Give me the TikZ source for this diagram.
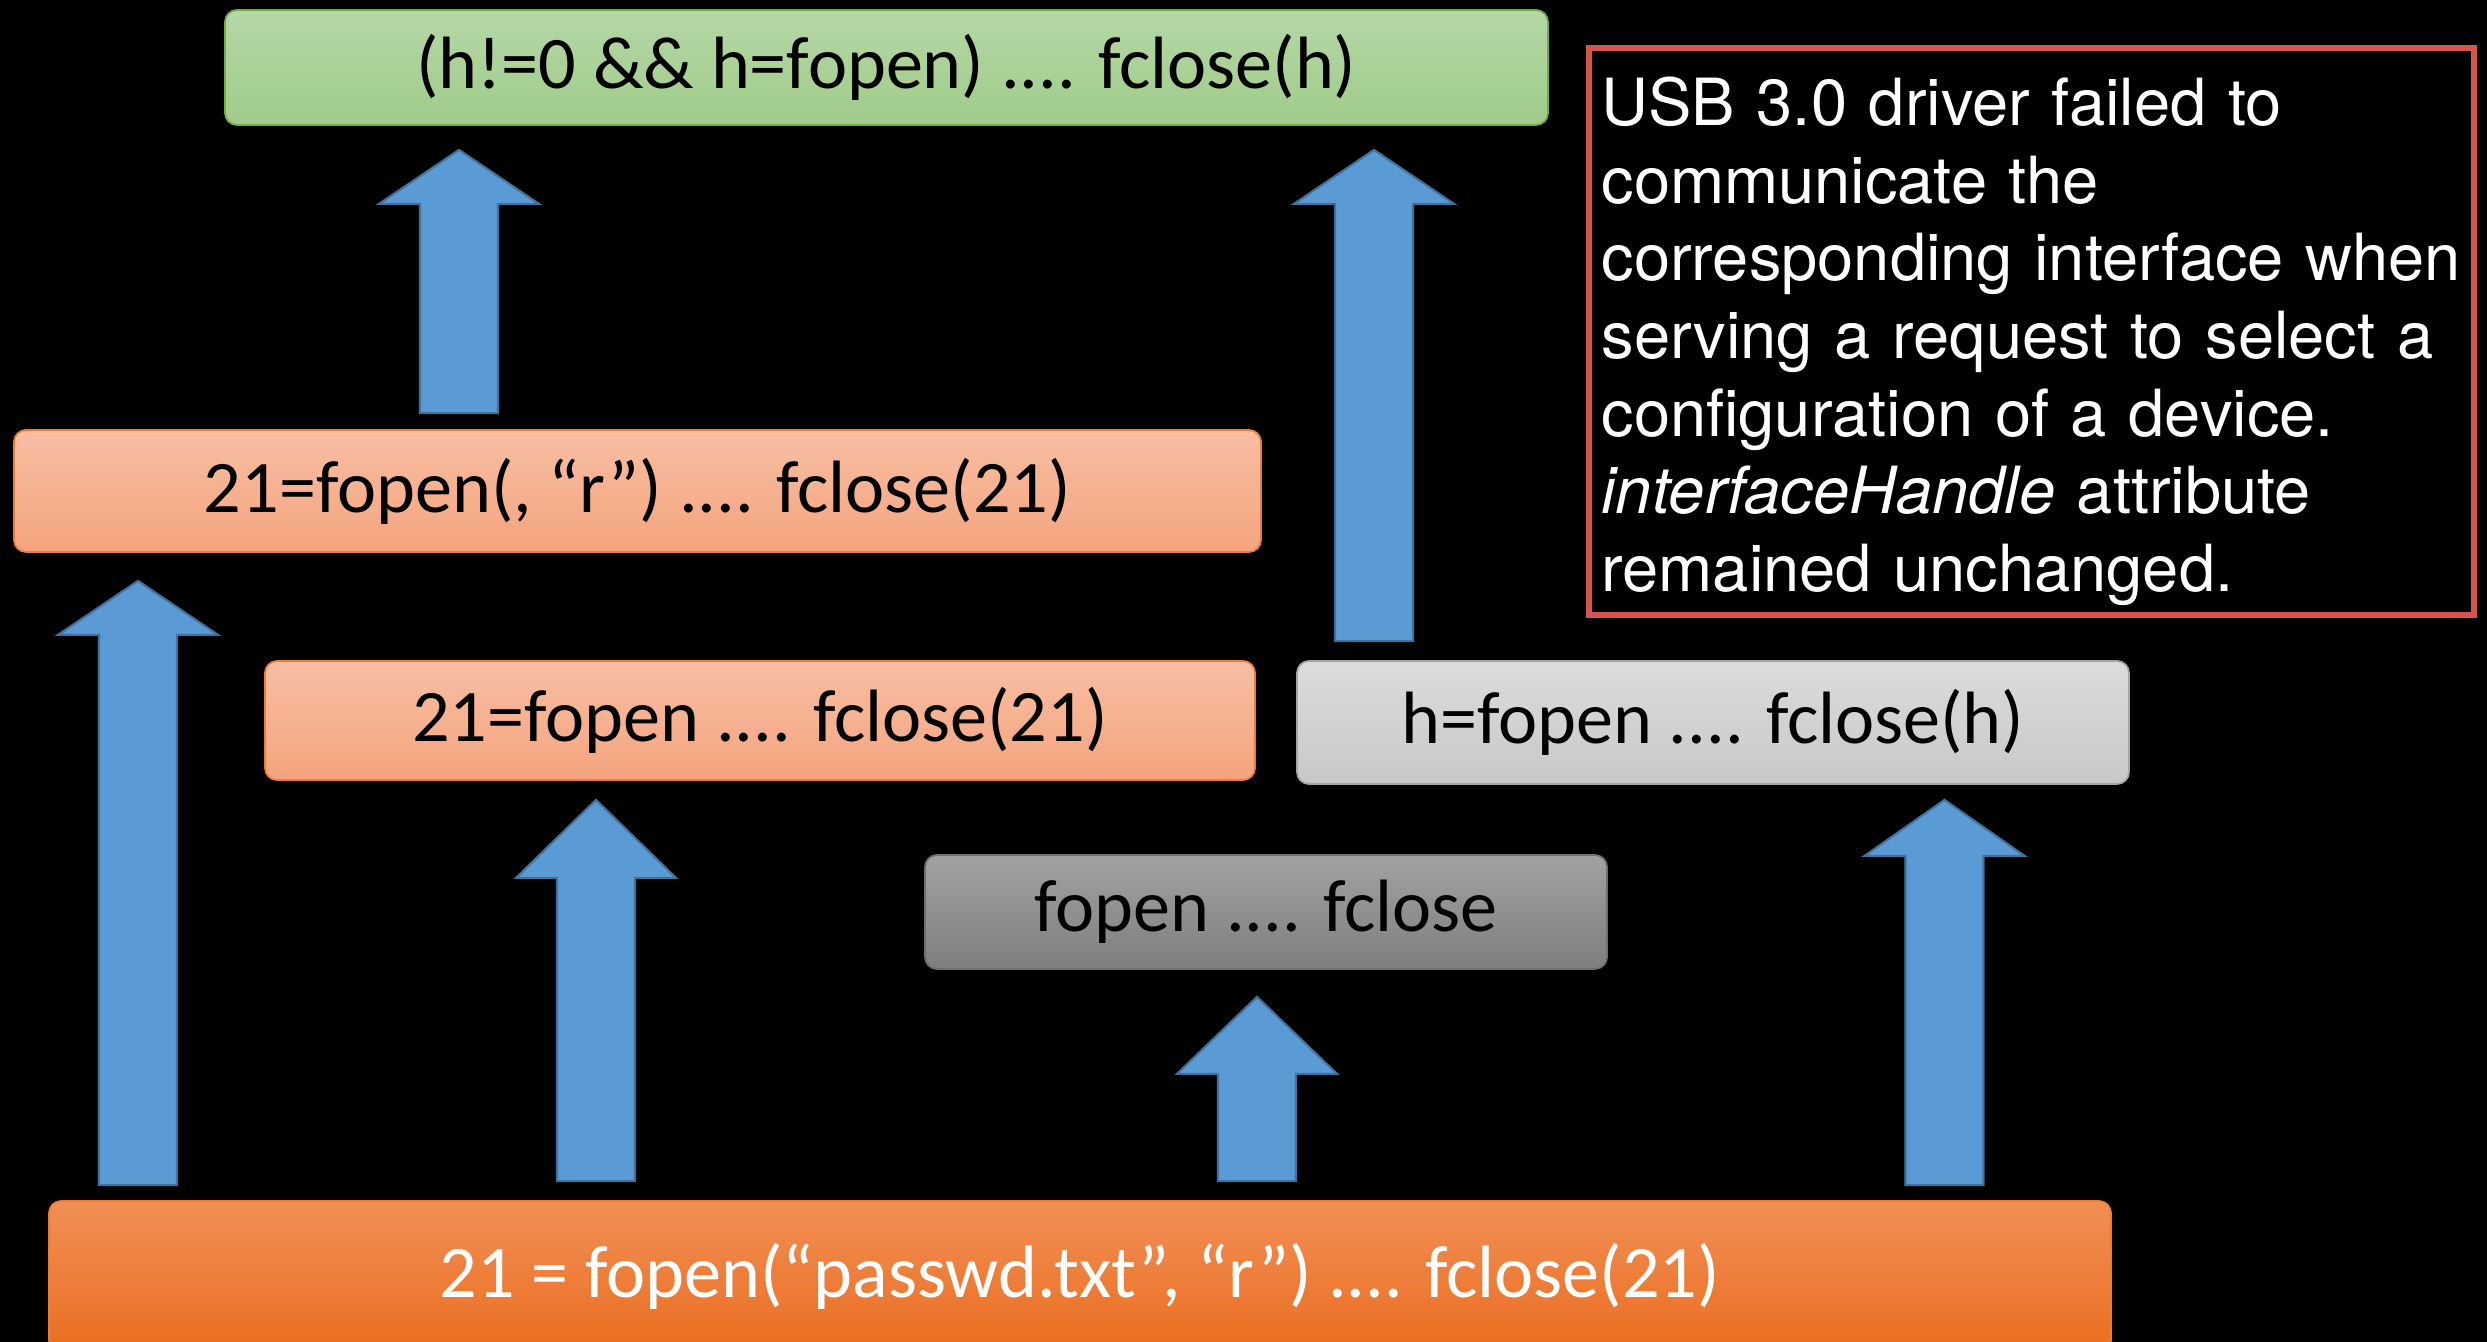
\documentclass[tikz,border=0pt]{standalone}
\usepackage{fontspec}
\setmainfont{Carlito}
\newfontfamily\notefont{TeX Gyre Heros}
\usetikzlibrary{calc,positioning}
\definecolor{arrowblue}{RGB}{91,155,213}
\definecolor{arrowedge}{RGB}{65,113,156}
\definecolor{notered}{RGB}{214,84,80}

% block arrow pointing up: start, tip, head length
\newcommand{\blockup}[3]{%
  \draw[blockarrow] let \p1=(#1), \p2=(#2) in
    (\x1-0.39cm,\y1) -- (\x1-0.39cm,\y2-#3) -- (\x1-0.80cm,\y2-#3) -- (\x1,\y2)
    -- (\x1+0.80cm,\y2-#3) -- (\x1+0.39cm,\y2-#3) -- (\x1+0.39cm,\y1) -- cycle;}

\begin{document}
\begin{tikzpicture}[
    box/.style={rectangle, rounded corners=0.12cm, inner sep=0pt, text centered, line width=0.5pt, font=\fontsize{21.1pt}{25pt}\selectfont},
    greenbox/.style={box, draw={rgb,255:red,112;green,173;blue,71}, top color={rgb,255:red,181;green,215;blue,166}, bottom color={rgb,255:red,160;green,204;blue,138}},
    peachbox/.style={box, draw={rgb,255:red,237;green,125;blue,49}, top color={rgb,255:red,248;green,190;blue,163}, bottom color={rgb,255:red,244;green,164;blue,126}},
    lightbox/.style={box, draw={rgb,255:red,165;green,165;blue,165}, top color={rgb,255:red,220;green,220;blue,220}, bottom color={rgb,255:red,200;green,200;blue,200}},
    darkbox/.style={box, draw={rgb,255:red,110;green,110;blue,110}, top color={rgb,255:red,162;green,162;blue,162}, bottom color={rgb,255:red,126;green,126;blue,126}},
    basebox/.style={box, draw={rgb,255:red,237;green,125;blue,49}, top color={rgb,255:red,241;green,143;blue,85}, bottom color={rgb,255:red,234;green,110;blue,32}, text=white},
    blockarrow/.style={fill=arrowblue, draw=arrowedge, line width=0.6pt}]

    \useasboundingbox (0,0) rectangle (24.87,13.42);
    \fill[black] (0,0) rectangle (24.87,13.42);

    \node[greenbox, minimum width=13.23cm, minimum height=1.15cm] (guard) at (8.865,12.745) {(h!=0 \&\& h=fopen) .... fclose(h)};
    \node[peachbox, minimum width=12.47cm, minimum height=1.22cm] (mode) at (6.375,8.51) {21=fopen(, “r”) .... fclose(21)};
    \node[peachbox, minimum width=9.90cm, minimum height=1.19cm] (fd21) at (7.60,6.215) {21=fopen .... fclose(21)};
    \node[lightbox, minimum width=8.32cm, minimum height=1.23cm] (fdh) at (17.13,6.195) {h=fopen .... fclose(h)};
    \node[darkbox, minimum width=6.82cm, minimum height=1.14cm] (plain) at (12.66,4.30) {fopen .... fclose};
    \node[basebox, minimum width=20.62cm, minimum height=1.51cm] (base) at (10.80,0.655) {21 = fopen(“passwd.txt”, “r”) .... fclose(21)};

    \node[draw=notered, line width=1.6pt, minimum width=8.85cm, minimum height=5.67cm, text width=8.6cm, align=left, inner sep=0pt, text=white,
        font=\notefont\fontsize{18.5pt}{22.1pt}\selectfont] (note) at (20.315,10.105)
        {\rule{0pt}{0.68cm}USB 3.0 driver failed to\\communicate the\\corresponding interface when\\serving a request to select a\\configuration of a device.\\\textit{interfaceHandle} attribute\\remained unchanged.};

    % arrow columns
    \coordinate (c1) at (1.38,0);
    \coordinate (c2) at (5.96,0);
    \coordinate (c3) at (12.57,0);
    \coordinate (c4) at (19.445,0);
    \coordinate (c5) at (4.59,0);
    \coordinate (c6) at (13.74,0);

    \blockup{$(base.north -| c1)+(0,0.15)$}{$(mode.south -| c1)-(0,0.28)$}{0.54cm}
    \blockup{$(base.north -| c2)+(0,0.19)$}{$(fd21.south -| c2)-(0,0.19)$}{0.78cm}
    \blockup{$(base.north -| c3)+(0,0.19)$}{$(plain.south -| c3)-(0,0.27)$}{0.77cm}
    \blockup{$(base.north -| c4)+(0,0.15)$}{$(fdh.south -| c4)-(0,0.15)$}{0.56cm}
    \blockup{$(mode.north -| c5)+(0,0.16)$}{$(guard.south -| c5)-(0,0.24)$}{0.54cm}
    \blockup{$(fdh.north -| c6)+(0,0.19)$}{$(guard.south -| c6)-(0,0.24)$}{0.54cm}
\end{tikzpicture}
\end{document}
